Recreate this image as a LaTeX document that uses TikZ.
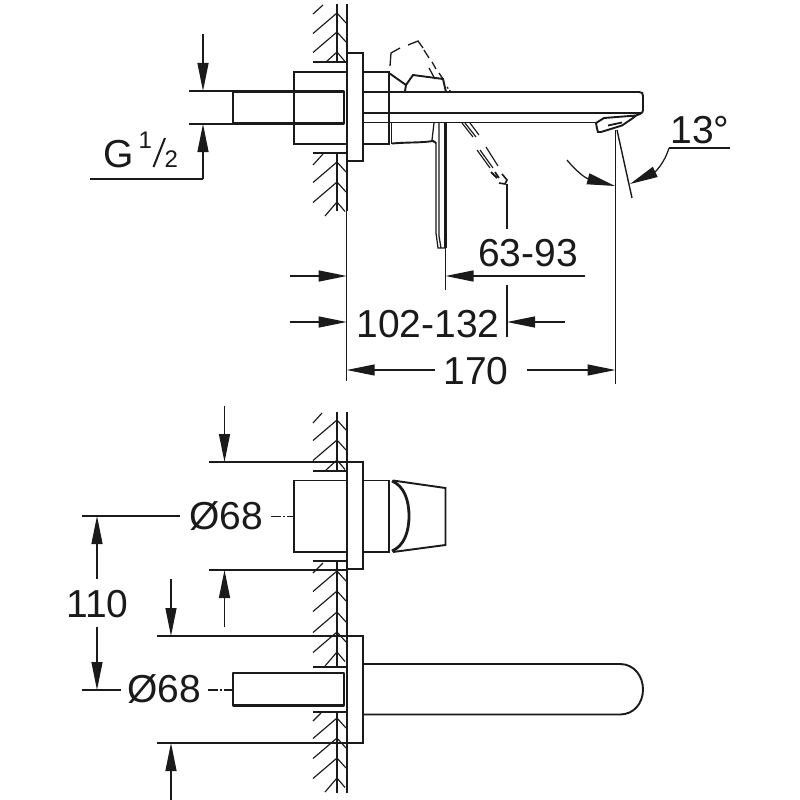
\documentclass[tikz,border=0pt]{standalone}
\usepackage{fontspec}
\setmainfont{Liberation Sans}
\usetikzlibrary{arrows.meta}
\definecolor{ink}{HTML}{1A1A1A}
\tikzset{
  bodyline/.style={draw=ink,line width=1.9pt,line join=miter},
  pipeline/.style={draw=ink,line width=2.6pt,line join=round},
  thinline/.style={draw=ink,line width=1.25pt},
  hatchline/.style={draw=ink,line width=1.15pt},
  dimline/.style={draw=ink,line width=1.25pt,-{Triangle[length=28pt,width=11pt]}},
  dashline/.style={draw=ink,line width=1.3pt},
  label/.style={inner sep=0pt,font=\fontsize{39}{39}\selectfont,text=ink,anchor=base},
  smalllabel/.style={inner sep=0pt,font=\fontsize{24}{24}\selectfont,text=ink,anchor=base}
}
\newcommand{\chev}[1]{\draw[hatchline] (313,#1+20.5) -- (337,#1) -- (346,#1+10);}
\newcommand{\partialtop}[1]{\draw[hatchline] (326,#1+10) -- (337,#1) -- (345,#1+9.5);}
\newcommand{\partialbot}[1]{\draw[hatchline] (325,#1+14) -- (337,#1) -- (345,#1+9.5);}
\begin{document}
\begin{tikzpicture}[x=1pt,y=-1pt]
\useasboundingbox (0,0) rectangle (800,800);
\fill[white] (0,0) rectangle (800,800);

% ---- wall, upper side view
\draw[bodyline] (346.7,4) -- (346.7,211);
\draw[hatchline,line width=1.6pt] (337,4) -- (337,62);
\draw[hatchline,line width=1.6pt] (337,153) -- (337,211);
\draw[hatchline] (313,14) -- (323,5);
\foreach \v in {13,32} {\chev{\v}}
\partialtop{52}
\draw[hatchline] (313,62) -- (346,62);
\draw[hatchline] (313,153) -- (346,153);
\draw[hatchline] (313,165) -- (323,154);
\foreach \v in {162,182} {\chev{\v}}
\partialbot{202}

% ---- side view body
\draw[bodyline,fill=white] (346.7,53) rectangle (362.7,161);
\draw[bodyline] (346,72) -- (294,72) -- (294,144) -- (346,144);
\draw[pipeline] (344,91.5) -- (233,91.5) -- (233,123.5) -- (344,123.5) -- cycle;
\draw[bodyline] (362.7,72) -- (389,72) -- (389,144) -- (362.7,144);
\draw[bodyline] (391.5,123) -- (391.5,144);
% spout
\draw[bodyline] (362.7,92) -- (639,92) .. controls (642,92) and (643,93) .. (643,96)
  -- (643,110) .. controls (643,112) and (642,113) .. (640,114) -- (636,115.5);
\draw[bodyline,line width=1.5pt] (362.7,113) -- (641,113);
\draw[bodyline] (362.7,122.5) -- (596,122.5);
% aerator
\draw[bodyline,fill=white] (596,123) -- (604,118) -- (636,115.5) -- (633,118)
  -- (622,125.5) -- (601,132) -- (598,132) .. controls (597,129) .. (596,123);
\draw[thinline,line width=1.8pt] (608,125.5) -- (622,122.5);
% lever above
\draw[bodyline] (389,73) -- (406,85) -- (405,91);
\draw[bodyline] (406,85) -- (413,75) -- (443,79) -- (446,92);
\draw[dashline] (390,66) -- (391,53) -- (400,48);
\draw[dashline] (408,45) -- (418,41) -- (423,48);
\draw[dashline] (424,50) -- (429,58);
\draw[dashline] (432,62) -- (436,69);
\draw[dashline] (439,73) -- (443,79);
\draw[thinline] (429,68) -- (435,79);
\draw[thinline,dash pattern=on 2pt off 2pt] (447,87) -- (451,92);
% lever below
\draw[bodyline] (392,143.5) .. controls (410,142) and (420,143) .. (433,141) -- (436,143);
\draw[thinline] (434,123) -- (432,140) -- (436,143) -- (436,233) -- (438,248) -- (445.5,248);
\draw[thinline] (439,123) -- (439,236) -- (441,248);
\draw[bodyline,line width=2.3pt] (445.5,123) -- (445.5,248);
% lever below, dashed alternative
\draw[hatchline] (462,123) -- (473,137);
\draw[hatchline] (465,123) -- (476,137);
\draw[hatchline] (470,123) -- (479,135);
\draw[hatchline] (477,150) -- (490,168);
\draw[hatchline] (480,150) -- (493,168);
\draw[hatchline] (486,147) -- (498,166);
\draw[pipeline,line width=2pt] (491,172) -- (497,178);
\draw[thinline,line width=1.7pt] (495,172) -- (499,178);
\draw[thinline,line width=1.6pt] (502,174) -- (507,180) -- (505,184) -- (499,183);

% ---- dimensions, side view
\draw[thinline] (189,91) -- (233,91);
\draw[thinline] (189,124) -- (233,124);
\draw[dimline] (203,34) -- (203,91);
\draw[dimline] (203,179) -- (203,124);
\draw[thinline] (90,179) -- (203,179);
\node[label,anchor=base west] (g) at (103,167) {G};
\node[smalllabel,anchor=base west] (gone) at (138.5,148) {1};
\draw[thinline,line width=2pt] (153.5,167) -- (165,138);
\node[smalllabel,anchor=base west] (gtwo) at (164.5,167) {2};

\draw[thinline] (346.7,211) -- (346.7,381);
\draw[thinline] (445.5,248) -- (445.5,290);
\draw[thinline] (507,184) -- (507,229);
\draw[thinline] (507,285) -- (507,337);
\draw[thinline] (615.5,130) -- (615.5,384);
\draw[thinline,line width=1.4pt] (617,130) -- (632,198);

\node[label] (d6393) at (528,266) {63-93};
\draw[dimline] (585,276) -- (445.5,276);
\draw[dimline] (290,276) -- (346.7,276);
\draw[dimline] (290,322) -- (346.7,322);
\node[label] (d102) at (428,337) {102-132};
\draw[dimline] (565,322) -- (507,322);
\node[label] (d170) at (476,384) {170};
\draw[dimline] (435,370) -- (346.7,370);
\draw[dimline] (527,370) -- (615.5,370);

\node[label] (d13) at (700,143) {13°};
\draw[thinline] (730,148) -- (669,148);
\draw[draw=ink,line width=1.25pt,-{Triangle[length=28pt,width=11pt]}]
  (669,148) .. controls (664,164) and (655,172) .. (630,184);
\draw[draw=ink,line width=1.25pt,-{Triangle[length=28pt,width=11pt]}]
  (567,160) .. controls (575,170) and (585,178) .. (615,186);

% ---- wall, upper front view
\draw[bodyline] (346.7,412) -- (346.7,793);
\draw[hatchline,line width=1.6pt] (337,412) -- (337,471);
\draw[hatchline,line width=1.6pt] (337,561) -- (337,667);
\draw[hatchline,line width=1.6pt] (337,712) -- (337,793);
\draw[hatchline] (313,423) -- (322,413);
\foreach \v in {420,440} {\chev{\v}}
\partialtop{460}
\draw[hatchline] (313,471) -- (346,471);
\draw[hatchline] (313,561) -- (346,561);
\draw[hatchline] (313,573) -- (323,563);
\foreach \v in {571,591,612,632} {\chev{\v}}
\partialbot{652}
\draw[hatchline] (313,667) -- (346,667);
\draw[hatchline] (313,712) -- (346,712);
\draw[hatchline] (313,721) -- (321,713);
\foreach \v in {718,738,758} {\chev{\v}}
\partialbot{778}

% ---- handle front view
\draw[thinline] (209,462) -- (346,462);
\draw[thinline] (209,570) -- (346,570);
\draw[bodyline,fill=white] (346.7,462) rectangle (362.7,569);
\draw[bodyline] (346,480.5) -- (294,480.5) -- (294,552) -- (346,552);
\draw[bodyline] (362.7,480.5) -- (389,480.5) -- (389,552) -- (362.7,552);
\draw[bodyline] (393,480.5) -- (445.5,488) -- (445.5,545) -- (393,552);
\draw[bodyline,line width=2.8pt] (392,481) .. controls (404,486) and (409,500) .. (409,516)
  .. controls (409,532) and (404,546) .. (392,551);
\draw[thinline,dash pattern=on 10pt off 2pt on 2pt off 2pt] (271,516.5) -- (294,516.5);
\node[label] (o1) at (226,529) {Ø68};
\draw[thinline] (82,516) -- (180,516);
\draw[dimline] (224.5,406) -- (224.5,462);
\draw[dimline] (224.5,627) -- (224.5,570);

% ---- spout front view
\draw[thinline] (157,636) -- (346,636);
\draw[thinline] (157,743) -- (346,743);
\draw[bodyline,fill=white] (346.7,636) rectangle (362.7,743);
\draw[pipeline] (344,673) -- (233,673) -- (233,705.5) -- (344,705.5) -- cycle;
\draw[bodyline] (362.7,664) -- (620,664) .. controls (634,664) and (643,676) .. (643,689.5)
  .. controls (643,703) and (634,714.5) .. (620,714.5) -- (362.7,714.5);
\draw[thinline,dash pattern=on 10pt off 2pt on 2pt off 2pt] (208,690) -- (233,690);
\node[label] (o2) at (164.5,702) {Ø68};

\draw[dimline] (171,579) -- (171,636);
\draw[dimline] (171,800) -- (171,743);

\node[label] (d110) at (97.5,617) {110};
\draw[dimline] (97,579) -- (97,516);
\draw[dimline] (97,627) -- (97,690);
\draw[thinline] (82,690) -- (121,690);
\end{tikzpicture}
\end{document}
